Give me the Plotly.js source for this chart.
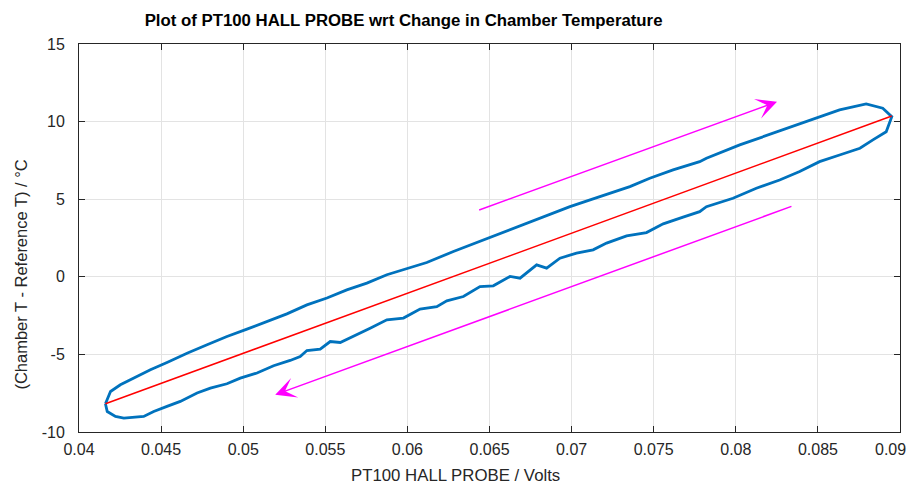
<!DOCTYPE html>
<html>
<head>
<meta charset="utf-8">
<script src="https://cdn.plot.ly/plotly-3.0.1.min.js"></script>
<style>html,body{margin:0;padding:0;background:#fff;}#chart{width:911px;height:486px;}</style>
</head>
<body>
<div id="chart"></div>
<script>
// Heating branch (upper curve), left to right
const upX = [0.04161,0.04192,0.04252,0.04333,0.04435,0.04536,0.04658,0.04780,0.04901,0.05023,0.05145,0.05266,0.05388,0.05510,0.05631,0.05753,0.05875,0.05956,0.06118,0.06280,0.06462,0.06645,0.06807,0.06990,0.07172,0.07355,0.07476,0.07618,0.07780,0.07821,0.08024,0.08226,0.08429,0.08632,0.08794,0.08895,0.08950];
const upY = [-8.18,-7.39,-6.96,-6.53,-5.99,-5.52,-4.92,-4.38,-3.85,-3.37,-2.88,-2.39,-1.81,-1.37,-0.84,-0.41,0.13,0.40,0.92,1.63,2.38,3.13,3.78,4.52,5.17,5.81,6.35,6.89,7.42,7.64,8.50,9.25,10.00,10.75,11.14,10.86,10.32];
// Cooling branch (lower curve), right to left
const dnX = [0.08950,0.08916,0.08835,0.08756,0.08632,0.08510,0.08389,0.08267,0.08125,0.07983,0.07821,0.07780,0.07679,0.07558,0.07456,0.07335,0.07213,0.07131,0.07030,0.06929,0.06848,0.06787,0.06686,0.06625,0.06523,0.06442,0.06341,0.06240,0.06179,0.06077,0.05976,0.05875,0.05773,0.05672,0.05591,0.05530,0.05469,0.05388,0.05347,0.05286,0.05185,0.05084,0.04982,0.04901,0.04800,0.04719,0.04617,0.04536,0.04455,0.04394,0.04333,0.04273,0.04222,0.04172,0.04161];
const dnY = [10.00,9.35,8.82,8.28,7.85,7.42,6.78,6.24,5.71,5.06,4.52,4.20,3.84,3.41,2.85,2.64,2.17,1.74,1.52,1.20,0.56,0.77,-0.09,0.02,-0.58,-0.63,-1.27,-1.55,-1.92,-2.08,-2.66,-2.77,-3.31,-3.85,-4.23,-4.17,-4.66,-4.75,-5.14,-5.39,-5.73,-6.20,-6.53,-6.89,-7.17,-7.49,-8.03,-8.35,-8.68,-9.00,-9.04,-9.10,-9.00,-8.68,-8.18];
// Linear fit line
const fitX = [0.04161,0.08950];
const fitY = [-8.18,10.36];
// Direction arrows: [tailX, tailY, headX, headY]
const arrowUp = [0.06428,4.27,0.08251,11.28];
const arrowDn = [0.08348,4.57,0.05195,-7.60];
// Axis ticks (the last x label is drawn as an annotation so it stays inside the page)
const xTicks = [0.04,0.045,0.05,0.055,0.06,0.065,0.07,0.075,0.08,0.085,0.09];
const xTickText = ['0.04','0.045','0.05','0.055','0.06','0.065','0.07','0.075','0.08','0.085',''];
const xLastLabel = '0.09';
const yTicks = [-10,-5,0,5,10,15];
const yTickText = ['-10','-5','0','5','10','15'];

const blue = '#0072BD';
const magenta = '#FF00FF';
const axisCol = '#262626';
const font = 'Liberation Sans, Arial, Helvetica, sans-serif';

const traces = [
  {x: upX.concat(dnX.slice(1)), y: upY.concat(dnY.slice(1)), mode:'lines', line:{color:blue, width:2.8}, hoverinfo:'skip'},
  {x: fitX, y: fitY, mode:'lines', line:{color:'#FF0000', width:1.5}, hoverinfo:'skip'}
];

function arrowAnn(a){
  return {x:a[2], y:a[3], ax:a[0], ay:a[1], xref:'x', yref:'y', axref:'x', ayref:'y',
    text:'', showarrow:true, arrowhead:3, arrowsize:2.3, arrowwidth:1.5, arrowcolor:magenta};
}

const axisCommon = {
  showline:true, linecolor:axisCol, linewidth:1, mirror:'ticks',
  ticks:'inside', ticklen:6, tickcolor:axisCol, tickwidth:1,
  showgrid:true, gridcolor:'#E3E3E3', gridwidth:1, zeroline:false,
  tickfont:{family:font, size:16, color:axisCol}
};

const layout = {
  width:911, height:486,
  margin:{l:78.5, r:11, t:44, b:54},
  paper_bgcolor:'#fff', plot_bgcolor:'#fff',
  showlegend:false,
  title:{text:'<b>Plot of PT100 HALL PROBE wrt Change in Chamber Temperature</b>',
    font:{family:font, size:16.8, color:'#000'}, xref:'container', x:0.443, xanchor:'center', yref:'container', y:0.959, yanchor:'middle'},
  xaxis: Object.assign({}, axisCommon, {range:[0.04,0.0900001], tickmode:'array', tickvals:xTicks, ticktext:xTickText,
    ticklabelstandoff:3}),
  yaxis: Object.assign({}, axisCommon, {range:[-10,15.000001], tickmode:'array', tickvals:yTicks, ticktext:yTickText,
    ticklabelstandoff:10}),
  annotations:[arrowAnn(arrowUp), arrowAnn(arrowDn),
    {text:xLastLabel, showarrow:false,
     xref:'paper', yref:'paper', x:1.0095, xanchor:'right', y:-0.045, yanchor:'middle',
     font:{family:font, size:16, color:axisCol}},
    {text:'PT100 HALL PROBE / Volts', showarrow:false,
     xref:'paper', yref:'paper', x:0.4583, xanchor:'center', y:-0.1134, yanchor:'middle',
     font:{family:font, size:16.8, color:axisCol}},
    {text:'(Chamber T - Reference T) / °C', textangle:-90, showarrow:false,
     xref:'paper', yref:'paper', x:-0.0712, xanchor:'center', y:0.4046, yanchor:'middle',
     font:{family:font, size:16.5, color:axisCol}}]
};

Plotly.newPlot('chart', traces, layout, {displayModeBar:false, staticPlot:true});
</script>
</body>
</html>
